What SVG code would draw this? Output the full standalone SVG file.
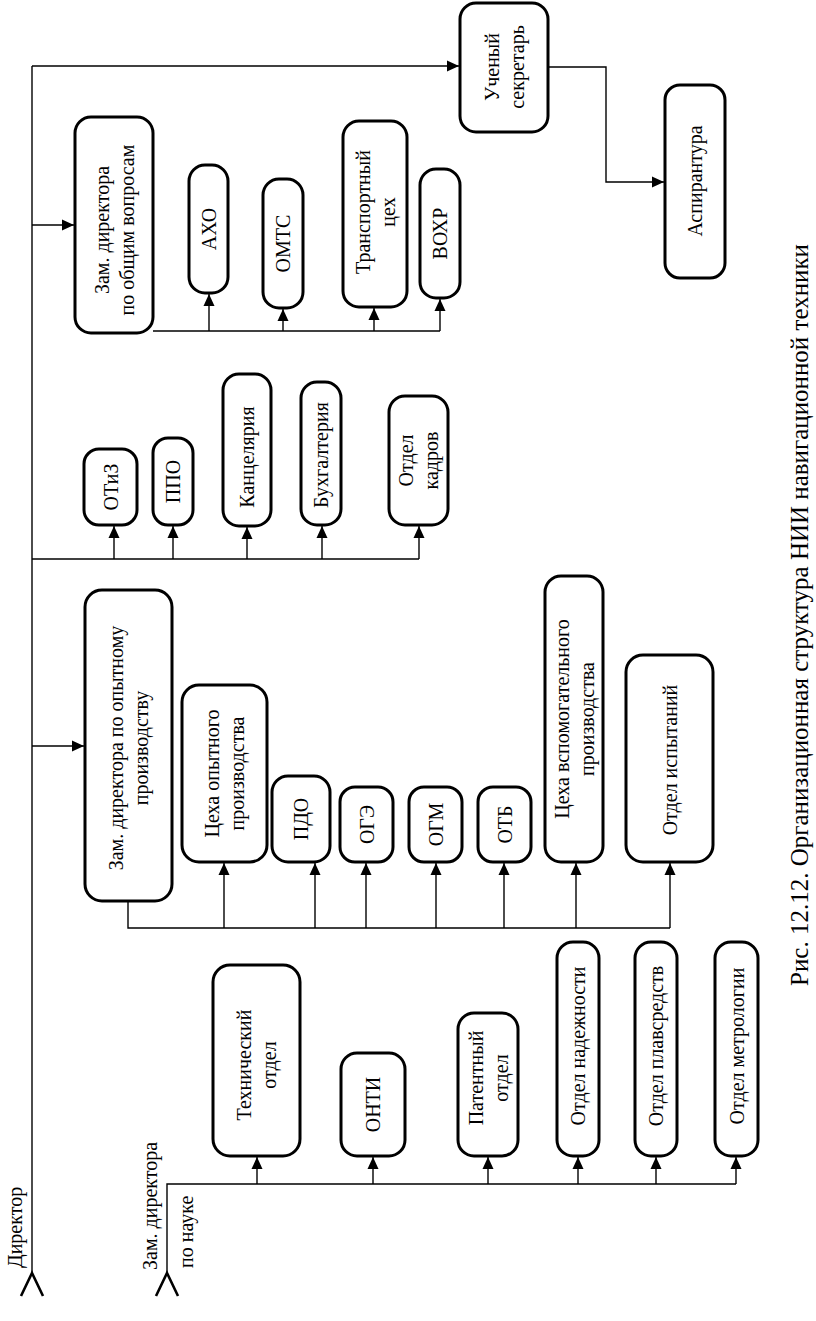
<svg xmlns="http://www.w3.org/2000/svg" width="816" height="1321" viewBox="0 0 816 1321">
<style>
.box{fill:#fff;stroke:#000;stroke-width:3}
.ln{fill:none;stroke:#000;stroke-width:1.4}
.chev{fill:none;stroke:#000;stroke-width:2.6}
text{font-family:"Liberation Serif","Times New Roman",serif;font-size:20px;fill:#000}
.t{text-anchor:middle}
.cap{font-size:25px}
</style>
<defs>
<marker id="ah" viewBox="0 0 12 12" refX="12" refY="6" markerWidth="12" markerHeight="12" markerUnits="userSpaceOnUse" orient="auto">
<path d="M0,0.5 L12,6 L0,11.5 z" fill="#000"/>
</marker>
</defs>
<rect width="816" height="1321" fill="#fff"/>

<g id="connectors">
<path class="ln" d="M32,1273 V66"/>
<path class="ln" d="M32,66 H459" marker-end="url(#ah)"/>
<path class="ln" d="M32,225 H74" marker-end="url(#ah)"/>
<path class="ln" d="M32,559 H419"/>
<path class="ln" d="M114,559 V526" marker-end="url(#ah)"/>
<path class="ln" d="M173,559 V526" marker-end="url(#ah)"/>
<path class="ln" d="M247,559 V527" marker-end="url(#ah)"/>
<path class="ln" d="M322,559 V526" marker-end="url(#ah)"/>
<path class="ln" d="M419,559 V526" marker-end="url(#ah)"/>
<path class="ln" d="M32,746 H84" marker-end="url(#ah)"/>
<path class="ln" d="M153,331 H440"/>
<path class="ln" d="M209,331 V294" marker-end="url(#ah)"/>
<path class="ln" d="M283,331 V309" marker-end="url(#ah)"/>
<path class="ln" d="M374,331 V308" marker-end="url(#ah)"/>
<path class="ln" d="M440,331 V299" marker-end="url(#ah)"/>
<path class="ln" d="M548,67 H606 V182 H664" marker-end="url(#ah)"/>
<path class="ln" d="M128,901 V928 H670"/>
<path class="ln" d="M224,928 V863" marker-end="url(#ah)"/>
<path class="ln" d="M315,928 V863" marker-end="url(#ah)"/>
<path class="ln" d="M366,928 V863" marker-end="url(#ah)"/>
<path class="ln" d="M436,928 V863" marker-end="url(#ah)"/>
<path class="ln" d="M504,928 V863" marker-end="url(#ah)"/>
<path class="ln" d="M576,928 V863" marker-end="url(#ah)"/>
<path class="ln" d="M670,928 V863" marker-end="url(#ah)"/>
<path class="ln" d="M167,1273 V1184 H736"/>
<path class="ln" d="M257,1184 V1157" marker-end="url(#ah)"/>
<path class="ln" d="M373,1184 V1157" marker-end="url(#ah)"/>
<path class="ln" d="M488,1184 V1157" marker-end="url(#ah)"/>
<path class="ln" d="M578,1184 V1157" marker-end="url(#ah)"/>
<path class="ln" d="M656,1184 V1157" marker-end="url(#ah)"/>
<path class="ln" d="M736,1184 V1157" marker-end="url(#ah)"/>
<polyline class="chev" points="21,1296 32,1273 43,1296"/>
<polyline class="chev" points="156,1296 167,1273 178,1296"/>
</g>

<g id="director">
<text transform="translate(22,1268) rotate(-90)">Директор</text>
</g>
<g id="zam_nauka">
<text transform="translate(157,1270) rotate(-90)">Зам. директора</text>
<text transform="translate(193,1268) rotate(-90)">по  науке</text>
</g>

<g id="uchsek">
<rect class="box" x="460" y="3" width="88" height="129" rx="16"/>
<text class="t" transform="translate(504,67) rotate(-90)"><tspan x="0" y="-5.5">Ученый</tspan><tspan x="0" y="19.5">секретарь</tspan></text>
</g>
<g id="aspirantura">
<rect class="box" x="665" y="85" width="60" height="193" rx="15"/>
<text class="t" transform="translate(695,181) rotate(-90)"><tspan x="0" y="7">Аспирантура</tspan></text>
</g>
<g id="zam_obsh">
<rect class="box" x="75" y="117" width="78" height="216" rx="16"/>
<text class="t" transform="translate(114,230) rotate(-90)"><tspan x="0" y="-5.5">Зам. директора</tspan><tspan x="0" y="19.5">по общим вопросам</tspan></text>
</g>
<g id="axo">
<rect class="box" x="189" y="165" width="39" height="128" rx="16"/>
<text class="t" transform="translate(208.5,229) rotate(-90)"><tspan x="0" y="7">АХО</tspan></text>
</g>
<g id="omts">
<rect class="box" x="263" y="179" width="40" height="129" rx="16"/>
<text class="t" transform="translate(283,243.5) rotate(-90)"><tspan x="0" y="7">ОМТС</tspan></text>
</g>
<g id="transport">
<rect class="box" x="343" y="121" width="64" height="186" rx="16"/>
<text class="t" transform="translate(375,212) rotate(-90)"><tspan x="0" y="-5.5">Транспортный</tspan><tspan x="0" y="19.5">цех</tspan></text>
</g>
<g id="voxr">
<rect class="box" x="420" y="169" width="40" height="129" rx="16"/>
<text class="t" transform="translate(440,233.5) rotate(-90)"><tspan x="0" y="7">ВОХР</tspan></text>
</g>
<g id="otiz">
<rect class="box" x="84" y="449" width="53" height="76" rx="15"/>
<text class="t" transform="translate(110.5,487) rotate(-90)"><tspan x="0" y="7">ОТиЗ</tspan></text>
</g>
<g id="ppo">
<rect class="box" x="153" y="438" width="40" height="87" rx="15"/>
<text class="t" transform="translate(173,481.5) rotate(-90)"><tspan x="0" y="7">ППО</tspan></text>
</g>
<g id="kanc">
<rect class="box" x="223" y="374" width="48" height="152" rx="16"/>
<text class="t" transform="translate(247,457) rotate(-90)"><tspan x="0" y="7">Канцелярия</tspan></text>
</g>
<g id="buh">
<rect class="box" x="301" y="382" width="40" height="143" rx="16"/>
<text class="t" transform="translate(321,455) rotate(-90)"><tspan x="0" y="7">Бухгалтерия</tspan></text>
</g>
<g id="kadr">
<rect class="box" x="389" y="396" width="59" height="129" rx="16"/>
<text class="t" transform="translate(418.5,460.5) rotate(-90)"><tspan x="0" y="-5.5">Отдел</tspan><tspan x="0" y="19.5">кадров</tspan></text>
</g>
<g id="zam_op">
<rect class="box" x="85" y="590" width="87" height="311" rx="17"/>
<text class="t" transform="translate(128.5,748) rotate(-90)"><tspan x="0" y="-5.5">Зам. директора по опытному</tspan><tspan x="0" y="19.5">производству</tspan></text>
</g>
<g id="cex_op">
<rect class="box" x="182" y="685" width="85" height="177" rx="17"/>
<text class="t" transform="translate(224.5,773.5) rotate(-90)"><tspan x="0" y="-5.5">Цеха опытного</tspan><tspan x="0" y="19.5">производства</tspan></text>
</g>
<g id="pdo">
<rect class="box" x="272" y="776" width="58" height="86" rx="16"/>
<text class="t" transform="translate(301,819) rotate(-90)"><tspan x="0" y="7">ПДО</tspan></text>
</g>
<g id="oge">
<rect class="box" x="340" y="787" width="53" height="75" rx="15"/>
<text class="t" transform="translate(366.5,824.5) rotate(-90)"><tspan x="0" y="7">ОГЭ</tspan></text>
</g>
<g id="ogm">
<rect class="box" x="409" y="787" width="53" height="75" rx="15"/>
<text class="t" transform="translate(435.5,824.5) rotate(-90)"><tspan x="0" y="7">ОГМ</tspan></text>
</g>
<g id="otb">
<rect class="box" x="478" y="787" width="53" height="75" rx="15"/>
<text class="t" transform="translate(504.5,824.5) rotate(-90)"><tspan x="0" y="7">ОТБ</tspan></text>
</g>
<g id="cex_vsp">
<rect class="box" x="545" y="576" width="58" height="286" rx="16"/>
<text class="t" transform="translate(574,719) rotate(-90)"><tspan x="0" y="-5.5">Цеха вспомогательного</tspan><tspan x="0" y="19.5">производства</tspan></text>
</g>
<g id="ispyt">
<rect class="box" x="626" y="655" width="87" height="207" rx="17"/>
<text class="t" transform="translate(669.5,760) rotate(-90)"><tspan x="0" y="7">Отдел испытаний</tspan></text>
</g>
<g id="tech">
<rect class="box" x="213" y="965" width="87" height="191" rx="17"/>
<text class="t" transform="translate(256.5,1065) rotate(-90)"><tspan x="0" y="-5.5">Технический</tspan><tspan x="0" y="19.5">отдел</tspan></text>
</g>
<g id="onti">
<rect class="box" x="341" y="1053" width="64" height="103" rx="16"/>
<text class="t" transform="translate(373,1104.5) rotate(-90)"><tspan x="0" y="7">ОНТИ</tspan></text>
</g>
<g id="patent">
<rect class="box" x="458" y="1013" width="60" height="143" rx="16"/>
<text class="t" transform="translate(488,1078) rotate(-90)"><tspan x="0" y="-5.5">Патентный</tspan><tspan x="0" y="19.5">отдел</tspan></text>
</g>
<g id="nadezh">
<rect class="box" x="557" y="942" width="42" height="214" rx="16"/>
<text class="t" transform="translate(578,1046) rotate(-90)"><tspan x="0" y="7">Отдел надежности</tspan></text>
</g>
<g id="plav">
<rect class="box" x="635" y="942" width="42" height="214" rx="16"/>
<text class="t" transform="translate(656,1046) rotate(-90)"><tspan x="0" y="7">Отдел плавсредств</tspan></text>
</g>
<g id="metr">
<rect class="box" x="715" y="942" width="43" height="214" rx="16"/>
<text class="t" transform="translate(736.5,1046) rotate(-90)"><tspan x="0" y="7">Отдел метрологии</tspan></text>
</g>

<g id="caption">
<text class="t cap" transform="translate(808,615) rotate(-90)">Рис. 12.12. Организационная структура НИИ навигационной техники</text>
</g>
</svg>
